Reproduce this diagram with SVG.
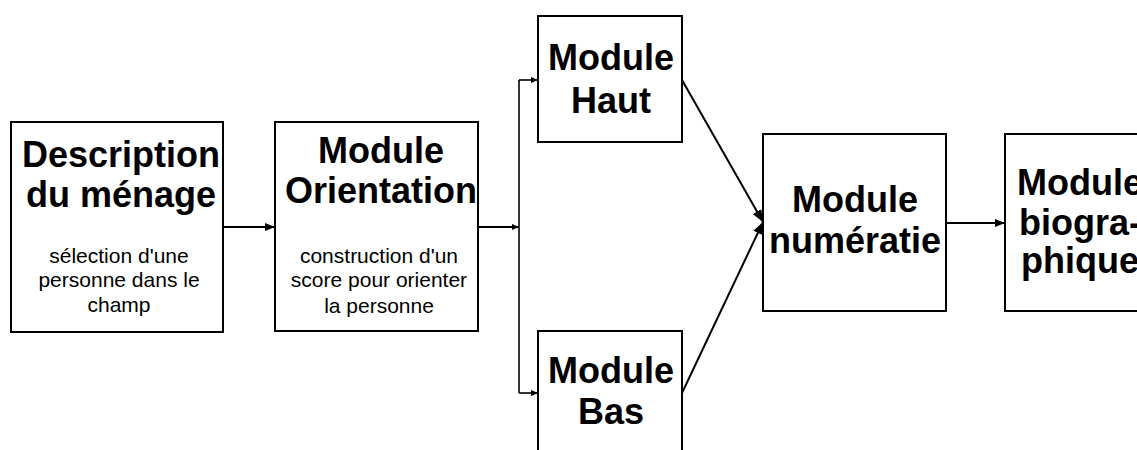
<svg xmlns="http://www.w3.org/2000/svg" width="1137" height="450" viewBox="0 0 1137 450">
  <style>
    .box { fill: #ffffff; stroke: #000000; stroke-width: 2; }
    .title { font-family: "Liberation Sans", Arial, sans-serif; font-weight: bold; font-size: 36px; fill: #000000; text-anchor: middle; }
    .note { font-family: "Liberation Sans", Arial, sans-serif; font-size: 21px; fill: #000000; text-anchor: middle; }
    .link { fill: none; stroke: #000000; stroke-width: 2; }
    .thin { fill: none; stroke: #000000; stroke-width: 1.6; }
  </style>
  <defs>
    <marker id="arrow" viewBox="0 0 10 8" refX="10" refY="4" markerWidth="10" markerHeight="8" markerUnits="userSpaceOnUse" orient="auto">
      <path d="M0,0 L10,4 L0,8 z" fill="#000000"/>
    </marker>
    <marker id="arrowLarge" viewBox="0 0 12 10" refX="12" refY="5" markerWidth="12" markerHeight="10" markerUnits="userSpaceOnUse" orient="auto">
      <path d="M0,0 L12,5 L0,10 z" fill="#000000"/>
    </marker>
    <marker id="arrowSmall" viewBox="0 0 7 6" refX="7" refY="3" markerWidth="7" markerHeight="6" markerUnits="userSpaceOnUse" orient="auto">
      <path d="M0,0 L7,3 L0,6 z" fill="#000000"/>
    </marker>
  </defs>

  <!-- connectors -->
  <g id="connectors">
    <line class="link" x1="223" y1="227" x2="275" y2="227" marker-end="url(#arrow)"/>
    <line class="link" x1="478" y1="227" x2="519" y2="227" marker-end="url(#arrowSmall)"/>
    <line class="thin" x1="519" y1="80" x2="519" y2="393"/>
    <line class="thin" x1="519" y1="80" x2="538" y2="80" marker-end="url(#arrowSmall)"/>
    <line class="thin" x1="519" y1="393" x2="538" y2="393" marker-end="url(#arrowSmall)"/>
    <line class="link" x1="682" y1="80" x2="763" y2="222" marker-end="url(#arrowLarge)"/>
    <line class="link" x1="682" y1="393" x2="763" y2="222" marker-end="url(#arrowLarge)"/>
    <line class="link" x1="946" y1="223" x2="1005" y2="223" marker-end="url(#arrow)"/>
  </g>

  <!-- household description -->
  <g id="node-description">
    <rect class="box" x="11" y="122" width="212" height="210"/>
    <text class="title" x="121" y="167">Description</text>
    <text class="title" x="121" y="207">du ménage</text>
    <text class="note" x="119" y="263">sélection d'une</text>
    <text class="note" x="119" y="287">personne dans le</text>
    <text class="note" x="119" y="312">champ</text>
  </g>

  <!-- orientation module -->
  <g id="node-orientation">
    <rect class="box" x="275" y="122" width="203" height="209"/>
    <text class="title" x="381" y="163">Module</text>
    <text class="title" x="381" y="203">Orientation</text>
    <text class="note" x="379" y="263">construction d'un</text>
    <text class="note" x="379" y="287">score pour orienter</text>
    <text class="note" x="379" y="313">la personne</text>
  </g>

  <!-- upper module -->
  <g id="node-haut">
    <rect class="box" x="538" y="16" width="144" height="126"/>
    <text class="title" x="611" y="70">Module</text>
    <text class="title" x="611" y="113">Haut</text>
  </g>

  <!-- lower module -->
  <g id="node-bas">
    <rect class="box" x="538" y="331" width="144" height="130"/>
    <text class="title" x="611" y="383">Module</text>
    <text class="title" x="611" y="424">Bas</text>
  </g>

  <!-- numeracy module -->
  <g id="node-numeratie">
    <rect class="box" x="763" y="134" width="183" height="177"/>
    <text class="title" x="855" y="212">Module</text>
    <text class="title" x="855" y="253">numératie</text>
  </g>

  <!-- biographical module -->
  <g id="node-biographique">
    <rect class="box" x="1005" y="134" width="150" height="177"/>
    <text class="title" x="1080" y="195">Module</text>
    <text class="title" x="1080" y="235">biogra-</text>
    <text class="title" x="1080" y="273">phique</text>
  </g>
</svg>
